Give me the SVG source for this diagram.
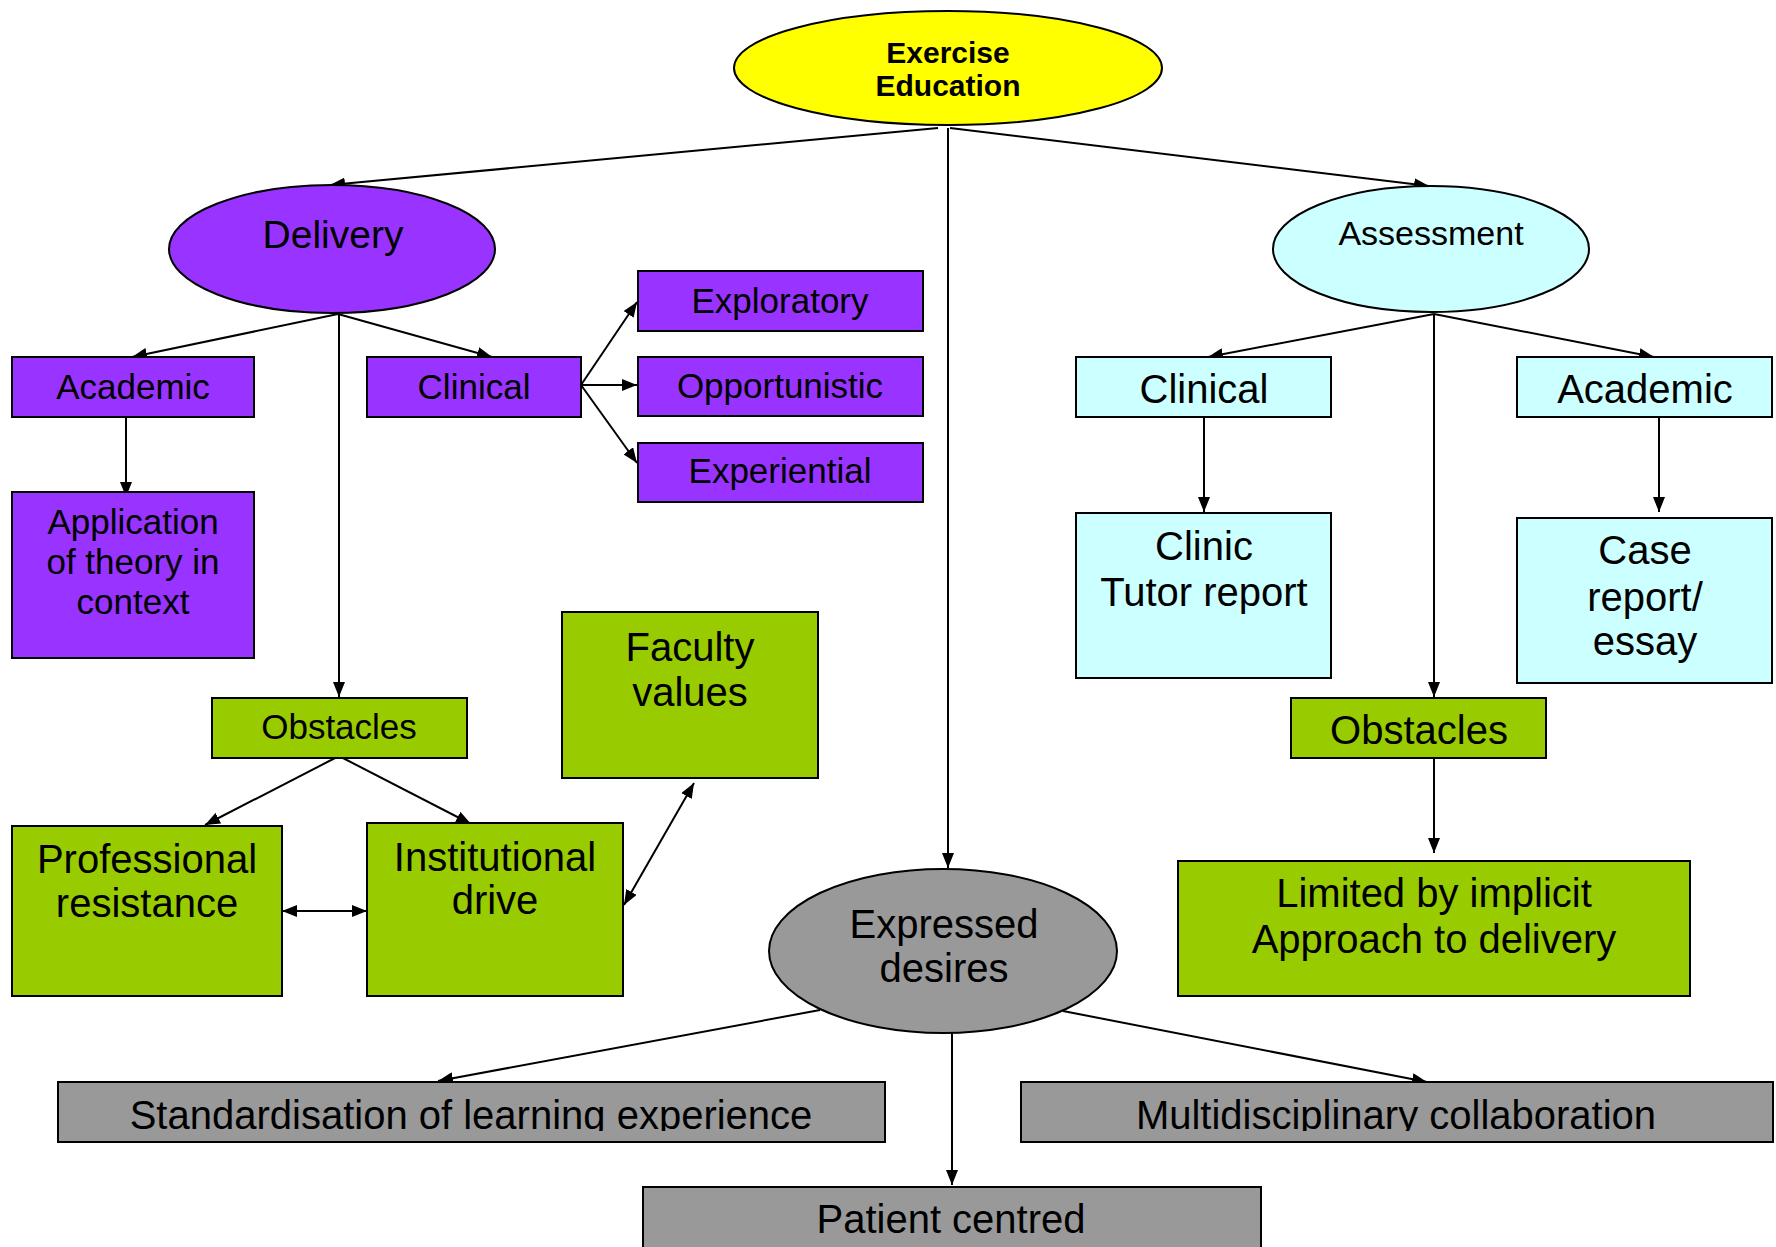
<svg xmlns="http://www.w3.org/2000/svg" width="1776" height="1247" viewBox="0 0 1776 1247">
<style>
text{font-family:"Liberation Sans",Arial,sans-serif;fill:#000;text-anchor:middle}
.n{stroke:#000;stroke-width:2}
.pu{fill:#9933FF}.cy{fill:#CCFFFF}.gr{fill:#99CC00}.gy{fill:#999999}.ye{fill:#FFFF00}
.c{fill:none;stroke:#000;stroke-width:2}
.f35{font-size:35px}.f34{font-size:35px}.f40{font-size:40px}
</style>
<defs>
<marker id="arr" viewBox="0 0 15 12" refX="15" refY="6" markerWidth="15" markerHeight="12" markerUnits="userSpaceOnUse" orient="auto-start-reverse"><path d="M0,0 L15,6 L0,12 z" fill="#000"/></marker>
<clipPath id="clipBottom"><rect x="0" y="1082" width="1776" height="49"/></clipPath>
</defs>
<rect width="1776" height="1247" fill="#fff"/>

<g id="connectors">
<line class="c" x1="938" y1="128" x2="330" y2="185" marker-end="url(#arr)"/>
<line class="c" x1="950" y1="128" x2="1429" y2="186" marker-end="url(#arr)"/>
<line class="c" x1="948" y1="128" x2="948" y2="868" marker-end="url(#arr)"/>
<line class="c" x1="338" y1="314" x2="132" y2="357" marker-end="url(#arr)"/>
<line class="c" x1="338" y1="314" x2="492" y2="357" marker-end="url(#arr)"/>
<line class="c" x1="339" y1="314" x2="339" y2="697" marker-end="url(#arr)"/>
<line class="c" x1="126" y1="417" x2="126" y2="497" marker-end="url(#arr)"/>
<line class="c" x1="581" y1="385" x2="637" y2="302" marker-end="url(#arr)"/>
<line class="c" x1="581" y1="385" x2="637" y2="385" marker-end="url(#arr)"/>
<line class="c" x1="581" y1="385" x2="637" y2="463" marker-end="url(#arr)"/>
<line class="c" x1="339" y1="756" x2="205" y2="825" marker-end="url(#arr)"/>
<line class="c" x1="339" y1="756" x2="471" y2="824" marker-end="url(#arr)"/>
<line class="c" x1="282" y1="911" x2="367" y2="911" marker-start="url(#arr)" marker-end="url(#arr)"/>
<line class="c" x1="624" y1="905" x2="694" y2="783" marker-start="url(#arr)" marker-end="url(#arr)"/>
<line class="c" x1="1434" y1="314" x2="1208" y2="357" marker-end="url(#arr)"/>
<line class="c" x1="1434" y1="314" x2="1654" y2="357" marker-end="url(#arr)"/>
<line class="c" x1="1434" y1="314" x2="1434" y2="697" marker-end="url(#arr)"/>
<line class="c" x1="1204" y1="417" x2="1204" y2="512" marker-end="url(#arr)"/>
<line class="c" x1="1659" y1="417" x2="1659" y2="512" marker-end="url(#arr)"/>
<line class="c" x1="1434" y1="758" x2="1434" y2="853" marker-end="url(#arr)"/>
<line class="c" x1="820" y1="1010" x2="438" y2="1081" marker-end="url(#arr)"/>
<line class="c" x1="1063" y1="1011" x2="1427" y2="1082" marker-end="url(#arr)"/>
<line class="c" x1="952" y1="1033" x2="952" y2="1185" marker-end="url(#arr)"/>
</g>

<g id="exercise-education">
<ellipse class="n ye" cx="948" cy="68" rx="214" ry="57"/>
<text x="948" y="63" font-size="30" font-weight="bold">Exercise</text>
<text x="948" y="96" font-size="30" font-weight="bold">Education</text>
</g>

<g id="delivery">
<ellipse class="n pu" cx="332" cy="249" rx="163" ry="64"/>
<text x="333" y="248" font-size="39">Delivery</text>
</g>

<g id="assessment">
<ellipse class="n cy" cx="1431" cy="249" rx="158" ry="63"/>
<text x="1431" y="245" font-size="34">Assessment</text>
</g>

<g id="d-academic">
<rect class="n pu" x="12" y="357" width="242" height="60"/>
<text x="133" y="399" class="f35">Academic</text>
</g>

<g id="d-clinical">
<rect class="n pu" x="367" y="357" width="214" height="60"/>
<text x="474" y="399" class="f35">Clinical</text>
</g>

<g id="application">
<rect class="n pu" x="12" y="492" width="242" height="166"/>
<text x="133" y="534" class="f35">Application</text>
<text x="133" y="574" class="f35">of theory in</text>
<text x="133" y="614" class="f35">context</text>
</g>

<g id="exploratory">
<rect class="n pu" x="638" y="271" width="285" height="60"/>
<text x="780" y="313" class="f34">Exploratory</text>
</g>

<g id="opportunistic">
<rect class="n pu" x="638" y="357" width="285" height="59"/>
<text x="780" y="398" class="f34">Opportunistic</text>
</g>

<g id="experiential">
<rect class="n pu" x="638" y="443" width="285" height="59"/>
<text x="780" y="483" class="f34">Experiential</text>
</g>

<g id="d-obstacles">
<rect class="n gr" x="212" y="698" width="255" height="60"/>
<text x="339" y="739" class="f34">Obstacles</text>
</g>

<g id="faculty-values">
<rect class="n gr" x="562" y="612" width="256" height="166"/>
<text x="690" y="661" class="f40">Faculty</text>
<text x="690" y="706" class="f40">values</text>
</g>

<g id="professional-resistance">
<rect class="n gr" x="12" y="826" width="270" height="170"/>
<text x="147" y="873" class="f40">Professional</text>
<text x="147" y="917" class="f40">resistance</text>
</g>

<g id="institutional-drive">
<rect class="n gr" x="367" y="823" width="256" height="173"/>
<text x="495" y="871" class="f40">Institutional</text>
<text x="495" y="914" class="f40">drive</text>
</g>

<g id="a-clinical">
<rect class="n cy" x="1076" y="357" width="255" height="60"/>
<text x="1204" y="403" class="f40">Clinical</text>
</g>

<g id="a-academic">
<rect class="n cy" x="1517" y="357" width="255" height="60"/>
<text x="1645" y="403" class="f40">Academic</text>
</g>

<g id="clinic-tutor-report">
<rect class="n cy" x="1076" y="513" width="255" height="165"/>
<text x="1204" y="560" class="f40">Clinic</text>
<text x="1204" y="606" class="f40">Tutor report</text>
</g>

<g id="case-report">
<rect class="n cy" x="1517" y="518" width="255" height="165"/>
<text x="1645" y="564" class="f40">Case</text>
<text x="1645" y="611" class="f40">report/</text>
<text x="1645" y="655" class="f40">essay</text>
</g>

<g id="a-obstacles">
<rect class="n gr" x="1291" y="698" width="255" height="60"/>
<text x="1419" y="744" class="f40">Obstacles</text>
</g>

<g id="limited">
<rect class="n gr" x="1178" y="861" width="512" height="135"/>
<text x="1434" y="907" class="f40">Limited by implicit</text>
<text x="1434" y="953" class="f40">Approach to delivery</text>
</g>

<g id="expressed-desires">
<ellipse class="n gy" cx="943" cy="951" rx="174" ry="82"/>
<text x="944" y="938" class="f40">Expressed</text>
<text x="944" y="982" class="f40">desires</text>
</g>

<g id="standardisation">
<rect class="n gy" x="58" y="1082" width="827" height="60"/>
<text x="471" y="1129" class="f40" clip-path="url(#clipBottom)">Standardisation of learning experience</text>
</g>

<g id="multidisciplinary">
<rect class="n gy" x="1021" y="1082" width="752" height="60"/>
<text x="1396" y="1129" class="f40" clip-path="url(#clipBottom)">Multidisciplinary collaboration</text>
</g>

<g id="patient-centred">
<rect class="n gy" x="643" y="1187" width="618" height="70"/>
<text x="951" y="1233" class="f40">Patient centred</text>
</g>
</svg>
